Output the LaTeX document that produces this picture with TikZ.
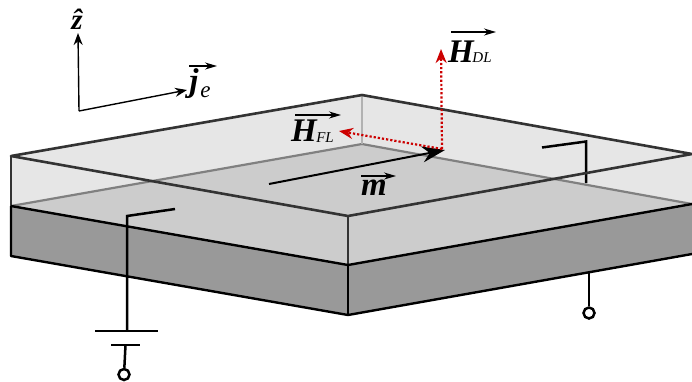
\documentclass[tikz,border=0pt]{standalone}
\usepackage{fontspec}
\setmainfont{Liberation Serif}
\usetikzlibrary{arrows.meta, calc}
\definecolor{topgray}{RGB}{230,230,230}
\definecolor{midgray}{RGB}{204,204,204}
\definecolor{basegray}{RGB}{153,153,153}
\definecolor{edgedark}{RGB}{51,51,51}
\definecolor{fieldred}{RGB}{204,0,0}

\begin{document}
\begin{tikzpicture}[
  x=1pt, y=-1pt,
  topedge/.style={edgedark, line width=2.6pt, line join=round},
  backedge/.style={gray, line width=2.2pt},
  baseedge/.style={black, line width=2.4pt, line join=round},
  wire/.style={black, line width=2.5pt, line join=miter},
  axis/.style={-{Stealth[length=12pt, width=9pt]}, black, line width=1.4pt},
  vecbar/.style={-{Stealth[length=12pt, width=7pt]}, black, line width=1.4pt},
  field/.style={-{Stealth[length=14pt, width=11pt]}, fieldred, line width=2.2pt, dotted},
  moment/.style={-{Stealth[length=23pt, width=16pt]}, black, line width=2pt},
  term/.style={circle, draw, fill=white, line width=2.5pt, inner sep=0pt, minimum size=11pt},
  sym/.style={inner sep=0pt, font=\fontsize{33}{33}\selectfont\bfseries\itshape},
  sub/.style={inner sep=0pt, font=\fontsize{15}{15}\selectfont\itshape},
]
\useasboundingbox (0,0) rectangle (692,381);

% corners: top face, interface, bottom
\coordinate (tl) at (11,156);
\coordinate (tb) at (362,95);
\coordinate (tr) at (692,154);
\coordinate (tf) at (348,216);
\coordinate (il) at (11,206);
\coordinate (ib) at (362,144);
\coordinate (ir) at (692,204);
\coordinate (if) at (348,265);
\coordinate (bl) at (11,256);
\coordinate (br) at (692,254);
\coordinate (bf) at (348,315);

% === Faces ===
\fill[basegray] (il) -- (if) -- (ir) -- (br) -- (bf) -- (bl) -- cycle;
\fill[topgray] (tl) -- (tb) -- (tr) -- (ir) -- (if) -- (il) -- cycle;
\fill[midgray] (il) -- (ib) -- (ir) -- (if) -- cycle;

% back edges
\draw[backedge] (il) -- (ib) -- (ir);
\draw[backedge, gray!60] (tb) -- (ib);

% right contact
\coordinate (rw1) at (542,147.5);
\coordinate (rw2) at (586,141.5);
\coordinate (rw3) at (586,183);
\draw[wire] (rw1) -- (rw2) -- (rw3);

% top edges
\draw[topedge] (tl) -- (tb) -- (tr) -- (tf) -- cycle;
\draw[edgedark, line width=1.7pt] (tl) -- (il);
\draw[edgedark, line width=1.7pt] (tf) -- (if);

% bottom edges
\draw[baseedge] (il) -- (if) -- (ir);
\draw[baseedge] (il) -- (bl) -- (bf) -- (br);
\draw[baseedge] (if) -- (bf);

% left contact and battery
\coordinate (lw1) at (175,209);
\coordinate (lw2) at (127,216);
\coordinate (lw3) at (127,331);
\coordinate (bat1a) at (95,331);
\coordinate (bat1b) at (158,331);
\coordinate (bat2a) at (111,345);
\coordinate (bat2b) at (140,345);
\coordinate (bat2c) at (125.5,345);
\node[term] (termleft) at (124,374.5) {};
\draw[wire] (lw1) -- (lw2) -- (lw3);
\draw[wire] (bat1a) -- (bat1b);
\draw[wire] (bat2a) -- (bat2b);
\draw[wire] (bat2c) -- (termleft);

% right terminal
\coordinate (rw4) at (589,273);
\node[term] (termright) at (589,313) {};
\draw[wire] (rw4) -- (termright);

% === Axes ===
\coordinate (origin) at (79,111);
\coordinate (zend) at (78,33);
\coordinate (jend) at (187,90);
\draw[axis] (origin) -- (zend);
\draw[axis] (origin) -- (jend);
\node[inner sep=0pt, font=\fontsize{29}{29}\selectfont\bfseries\itshape] (zlabel) at (77,19) {\^{z}};
\node[sym] (jlabel) at (194,84) {j};
\node[sub, font=\fontsize{23}{23}\selectfont\itshape] (jsub) at (205.5,92) {e};
\coordinate (jbar1) at (189,66);
\coordinate (jbar2) at (217,66);
\draw[vecbar] (jbar1) -- (jbar2);

% === Magnetisation and fields ===
\coordinate (mstart) at (269,184);
\coordinate (mend) at (445,150);
\coordinate (hfoot) at (442,149);
\coordinate (hdl) at (441,49);
\coordinate (hfl) at (339,131);
\draw[moment] (mstart) -- (mend);
\draw[field] (hfoot) -- (hdl);
\draw[field] (hfoot) -- (hfl);

% H_DL
\node[sym] (hdllabel) at (461,52) {H};
\node[sub] (hdlsub) at (482,58) {DL};
\coordinate (dlbar1) at (451,32);
\coordinate (dlbar2) at (496,32);
\draw[vecbar] (dlbar1) -- (dlbar2);

% H_FL
\node[sym] (hfllabel) at (304,131) {H};
\node[sub] (hflsub) at (325,138) {FL};
\coordinate (flbar1) at (295,115);
\coordinate (flbar2) at (341,115);
\draw[vecbar] (flbar1) -- (flbar2);

% m
\node[sym] (mlabel) at (374,188) {m};
\coordinate (mbar1) at (361,176);
\coordinate (mbar2) at (396,176);
\draw[vecbar] (mbar1) -- (mbar2);
\end{tikzpicture}
\end{document}
